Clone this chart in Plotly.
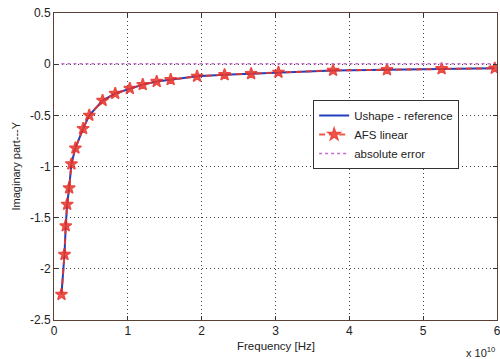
import plotly.graph_objects as go

# Frequency in units of 1e10 Hz
freq_e10 = [0.101, 0.142, 0.159, 0.178, 0.205, 0.236, 0.29, 0.394, 0.478, 0.658,
            0.829, 1.027, 1.202, 1.391, 1.58, 1.938, 2.31, 2.67, 3.04, 3.78,
            4.51, 5.25, 5.97]
ushape_ref = [-2.25, -1.86, -1.58, -1.37, -1.21, -0.975, -0.82, -0.63, -0.50, -0.355,
              -0.287, -0.238, -0.20, -0.17, -0.151, -0.119, -0.103, -0.093, -0.080, -0.061,
              -0.055, -0.045, -0.040]
afs_linear = [-2.25, -1.86, -1.58, -1.37, -1.21, -0.975, -0.82, -0.63, -0.50, -0.355,
              -0.287, -0.238, -0.20, -0.17, -0.151, -0.119, -0.103, -0.093, -0.080, -0.061,
              -0.055, -0.045, -0.040]
abs_error = [0.003] * len(freq_e10)

x_ticks = [0, 1, 2, 3, 4, 5, 6]
y_ticks = [0.5, 0, -0.5, -1, -1.5, -2, -2.5]
y_tick_labels = ["0.5", "0", "-0.5", "-1", "-1.5", "-2", "-2.5"]

font = "Liberation Sans, Arial, sans-serif"

fig = go.Figure()
fig.add_trace(go.Scatter(x=freq_e10, y=ushape_ref, mode="lines", name="Ushape - reference",
                         line=dict(color="#1f3fbf", width=2)))
fig.add_trace(go.Scatter(x=freq_e10, y=afs_linear, mode="lines+markers", name="AFS linear",
                         line=dict(color="#ee3a2a", width=2, dash="6px,4px"),
                         marker=dict(symbol="star", size=9, color="#ee3a2a",
                                     line=dict(color="#e82a20", width=1.5)),
                         opacity=0.85))
fig.add_trace(go.Scatter(x=freq_e10, y=abs_error, mode="lines", name="absolute error",
                         line=dict(color="#c86ad0", width=1.5, dash="dot")))

axis_common = dict(showline=True, linecolor="#5a4035", linewidth=1, mirror="ticks",
                   ticks="inside", ticklen=4, tickcolor="#333", automargin=False,
                   showgrid=True, gridcolor="#444", griddash="1px,3px", gridwidth=1,
                   zeroline=False, tickfont=dict(family=font, size=12, color="#222"))

fig.update_xaxes(range=[0, 6], tickvals=x_ticks, ticklabeloverflow="allow", **axis_common)
fig.update_yaxes(range=[-2.5, 0.5], tickvals=y_ticks, ticktext=y_tick_labels,
                 ticklabeloverflow="allow", **axis_common)

fig.update_layout(
    width=500, height=359,
    margin=dict(l=54, r=3, t=13, b=39),
    paper_bgcolor="white", plot_bgcolor="white",
    font=dict(family=font, size=11, color="#222"),
    legend=dict(x=0.585, y=0.717, xanchor="left", yanchor="top",
                bordercolor="#333", borderwidth=1, bgcolor="white",
                font=dict(family=font, size=11.5), tracegroupgap=0),
    annotations=[
        dict(text="Frequency [Hz]", xref="paper", yref="paper", x=0.5, y=-0.085,
             xanchor="center", yanchor="middle", showarrow=False,
             font=dict(family=font, size=11.5)),
        dict(text="x 10<sup>10</sup>", xref="paper", yref="paper", x=1.0, y=-0.105,
             xanchor="right", yanchor="middle", showarrow=False,
             font=dict(family=font, size=11)),
        dict(text="Imaginary part---Y", xref="paper", yref="paper", x=-0.088, y=0.5,
             xanchor="center", yanchor="middle", textangle=-90, showarrow=False,
             font=dict(family=font, size=11)),
    ],
)

fig.write_html("out.html", config={"displayModeBar": False},
               post_script="document.body.style.margin='0';document.body.style.overflow='hidden';")
